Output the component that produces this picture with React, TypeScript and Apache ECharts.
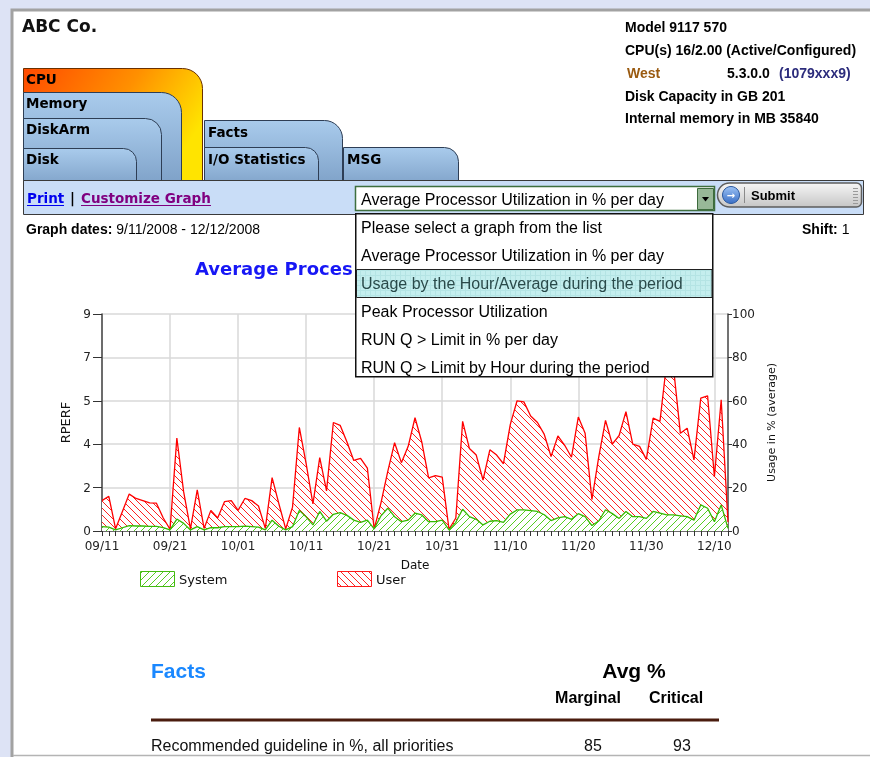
import React, { useEffect, useRef } from 'react';
import * as echarts from 'echarts';

// ---------- chart data ----------
const dates = [
  '09/11', '09/12', '09/13', '09/14', '09/15', '09/16', '09/17', '09/18', '09/19', '09/20',
  '09/21', '09/22', '09/23', '09/24', '09/25', '09/26', '09/27', '09/28', '09/29', '09/30',
  '10/01', '10/02', '10/03', '10/04', '10/05', '10/06', '10/07', '10/08', '10/09', '10/10',
  '10/11', '10/12', '10/13', '10/14', '10/15', '10/16', '10/17', '10/18', '10/19', '10/20',
  '10/21', '10/22', '10/23', '10/24', '10/25', '10/26', '10/27', '10/28', '10/29', '10/30',
  '10/31', '11/01', '11/02', '11/03', '11/04', '11/05', '11/06', '11/07', '11/08', '11/09',
  '11/10', '11/11', '11/12', '11/13', '11/14', '11/15', '11/16', '11/17', '11/18', '11/19',
  '11/20', '11/21', '11/22', '11/23', '11/24', '11/25', '11/26', '11/27', '11/28', '11/29',
  '11/30', '12/01', '12/02', '12/03', '12/04', '12/05', '12/06', '12/07', '12/08', '12/09',
  '12/10', '12/11', '12/12',
];

// Usage in % (average) – height of the red "User" outline
const userPct = [
  14, 16, 1, 9, 17, 15, 14, 13, 12.8, 6,
  0.8, 42.8, 18, 1, 19, 1.2, 9.5, 6, 13.5, 14,
  9.5, 15, 14, 11.5, 1.2, 24.6, 12.5, 1, 11, 47.7,
  31, 12.5, 33.8, 18.5, 50, 48.7, 41, 32.5, 33.5, 29,
  1, 13, 27.5, 40.7, 31.5, 39, 52.2, 41, 24.5, 25.5,
  24.8, 0.8, 6, 50.5, 38, 35, 23.5, 37.4, 35, 31,
  49, 60, 59.5, 53, 50, 44.5, 34.3, 43.8, 39.5, 34,
  52.5, 45, 14.5, 34, 51, 40, 44, 55, 40, 39,
  33, 52, 50.5, 78, 75, 45, 47.4, 32.8, 61.2, 62.3,
  25, 60.5, 4,
];

// Usage in % (average) – green "System" outline
const systemPct = [
  2, 1.8, 0.5, 1.5, 2.5, 2.3, 2.3, 2.1, 2.1, 1.6,
  0.5, 5.5, 3.5, 0.5, 2, 0.5, 1.6, 1.5, 2, 2,
  2, 2.2, 2, 1.8, 0.5, 5, 2.2, 0.5, 2, 9.5,
  6.5, 2.8, 9, 4.5, 7.7, 8.5, 7.2, 5, 4, 5,
  1, 7, 10.5, 6.6, 4.3, 5, 8.2, 7.4, 4.3, 4.3,
  5, 0.5, 4, 10, 6.6, 5.4, 2.8, 4.5, 4.8, 4,
  7.8, 9.7, 9.7, 9.4, 9, 7.5, 4.8, 6, 6.6, 5.4,
  8, 6.6, 2.5, 4.6, 9.8, 8, 5.8, 9, 6.6, 6.6,
  5.8, 9, 8.2, 7.4, 7.4, 7, 6.6, 5, 12, 10.5,
  4.3, 12, 1.2,
];

const seriesNames = ['System', 'User'];
const rperfMax = 9;
const pctMax = 100;
const chartTitle = 'Average Processor Utilization in % per day';

const menuItems = [
  'Please select a graph from the list',
  'Average Processor Utilization in % per day',
  'Usage by the Hour/Average during the period',
  'Peak Processor Utilization',
  'RUN Q > Limit in % per day',
  'RUN Q > Limit by Hour during the period',
];
const selectedMenu = 2;

const infoLines = [
  'Model 9117 570',
  'CPU(s) 16/2.00 (Active/Configured)',
  '',
  'Disk Capacity in GB 201',
  'Internal memory in MB 35840',
];

const factsRow = { label: 'Recommended guideline in %, all priorities', marginal: '85', critical: '93' };

// ---------- helpers ----------
const AR = 'Liberation Sans';
const DV = 'DejaVu Sans';
const F = (size: number, bold = false, fam = AR) => `${bold ? 'bold ' : ''}${size}px "${fam}"`;

function hatch(color: string, forward: boolean) {
  const s = 7;
  const c = document.createElement('canvas');
  c.width = s;
  c.height = s;
  const g = c.getContext('2d')!;
  g.fillStyle = '#ffffff';
  g.fillRect(0, 0, s, s);
  g.strokeStyle = color;
  g.lineWidth = 1;
  g.beginPath();
  for (const d of [-s, 0, s]) {
    if (forward) {
      g.moveTo(d, s);
      g.lineTo(d + s, 0);
    } else {
      g.moveTo(d, 0);
      g.lineTo(d + s, s);
    }
  }
  g.stroke();
  return { image: c, repeat: 'repeat', imageWidth: s, imageHeight: s } as any;
}

function gridPattern() {
  const s = 5;
  const c = document.createElement('canvas');
  c.width = s;
  c.height = s;
  const g = c.getContext('2d')!;
  g.fillStyle = '#c4eeee';
  g.fillRect(0, 0, s, s);
  g.fillStyle = '#b4e4e4';
  g.fillRect(0, 0, s, 1);
  g.fillRect(0, 0, 1, s);
  return { image: c, repeat: 'repeat', imageWidth: s, imageHeight: s } as any;
}

const txt = (x: number, y: number, text: string, font: string, fill = '#000', align = 'left', z = 20) => ({
  type: 'text',
  x,
  y,
  z,
  silent: true,
  style: { text, font, fill, textAlign: align, textVerticalAlign: 'middle' },
});

const blueTab = {
  type: 'linear', x: 0, y: 0, x2: 0, y2: 1,
  colorStops: [{ offset: 0, color: '#a9cbec' }, { offset: 1, color: '#7c9fc6' }],
};
const cpuTab = {
  type: 'linear', x: 0, y: 0, x2: 1, y2: 0.45,
  colorStops: [
    { offset: 0, color: '#ff4a00' },
    { offset: 0.55, color: '#ff9000' },
    { offset: 0.85, color: '#ffc800' },
    { offset: 1, color: '#ffe400' },
  ],
};

const tab = (x: number, y: number, w: number, h: number, r: number, fill: any, stroke: string, z: number) => ({
  type: 'rect',
  z,
  silent: true,
  shape: { x, y, width: w, height: h, r: [0, r, 0, 0] },
  style: { fill, stroke, lineWidth: 1 },
});

export default function App() {
  const ref = useRef<HTMLDivElement>(null);

  useEffect(() => {
    const chart = echarts.init(ref.current!, null, { renderer: 'svg' });
    const redPat = hatch('#ff2020', false);
    const greenPat = hatch('#55cc22', true);
    const hlPat = gridPattern();

    const graphics: any[] = [
      // page background + panel
      { type: 'rect', z: -5, silent: true, shape: { x: 0, y: 0, width: 870, height: 757 }, style: { fill: '#dde3f5' } },
      {
        type: 'rect', z: -4, silent: true,
        shape: { x: 12, y: 10, width: 880, height: 800 },
        style: { fill: '#ffffff', stroke: '#a2a2a2', lineWidth: 3 },
      },
      { type: 'line', z: -3, silent: true, shape: { x1: 13, y1: 755.5, x2: 870, y2: 755.5 }, style: { stroke: '#b4b4b4', lineWidth: 1.5 } },

      txt(22, 26, 'ABC Co.', F(17, true, DV), '#111'),

      // info block
      txt(625, 27, infoLines[0], F(14, true)),
      txt(625, 50, infoLines[1], F(14, true)),
      txt(627, 73, 'West', F(14, true), '#9a5a10'),
      txt(727, 73, '5.3.0.0', F(14, true)),
      txt(779, 73, '(1079xxx9)', F(14, true), '#2c2c7c'),
      txt(625, 96, infoLines[3], F(14, true)),
      txt(625, 118, infoLines[4], F(14, true)),

      // tabs
      tab(23.5, 68.5, 179, 120, 20, cpuTab, '#6a3000', 3),
      tab(23.5, 92.5, 158, 96, 20, blueTab, '#2e3e55', 4),
      tab(23.5, 118.5, 138, 70, 16, blueTab, '#2e3e55', 5),
      tab(23.5, 148.5, 113, 40, 13, blueTab, '#2e3e55', 6),
      tab(204.5, 120.5, 138, 68, 18, blueTab, '#2e3e55', 3),
      tab(204.5, 147.5, 114, 41, 13, blueTab, '#2e3e55', 4),
      tab(343.5, 147.5, 115, 41, 14, blueTab, '#2e3e55', 3),
      txt(26, 79, 'CPU', F(13.5, true, DV)),
      txt(26, 103, 'Memory', F(13.5, true, DV)),
      txt(26, 129, 'DiskArm', F(13.5, true, DV)),
      txt(26, 159, 'Disk', F(13.5, true, DV)),
      txt(208, 132, 'Facts', F(13.5, true, DV)),
      txt(208, 158.5, 'I/O Statistics', F(13.5, true, DV)),
      txt(347, 158.5, 'MSG', F(13.5, true, DV)),

      // toolbar
      {
        type: 'rect', z: 10, silent: true,
        shape: { x: 23.5, y: 180.5, width: 840, height: 34 },
        style: { fill: '#c9ddf7', stroke: '#3a3a3a', lineWidth: 1 },
      },
      txt(27, 198, 'Print', F(13.5, true, DV), '#0000ee'),
      { type: 'line', z: 20, silent: true, shape: { x1: 27, y1: 205.5, x2: 64, y2: 205.5 }, style: { stroke: '#0000ee', lineWidth: 1 } },
      txt(70, 198, '|', F(13.5, true, DV), '#000'),
      txt(81, 198, 'Customize Graph', F(13.5, true, DV), '#800080'),
      { type: 'line', z: 20, silent: true, shape: { x1: 81, y1: 205.5, x2: 211, y2: 205.5 }, style: { stroke: '#800080', lineWidth: 1 } },

      // select box
      {
        type: 'rect', z: 20, silent: true,
        shape: { x: 355.5, y: 186.5, width: 359, height: 24 },
        style: { fill: '#ffffff', stroke: '#3f6f3f', lineWidth: 1.5 },
      },
      txt(361, 199, menuItems[1], F(16), '#000', 'left', 21),
      {
        type: 'rect', z: 21, silent: true,
        shape: { x: 697.5, y: 188.5, width: 16, height: 21 },
        style: { fill: '#98b898', stroke: '#3d6b3d', lineWidth: 1 },
      },
      {
        type: 'polygon', z: 22, silent: true,
        shape: { points: [[702, 197], [709, 197], [705.5, 201.5]] },
        style: { fill: '#000' },
      },

      // submit button
      {
        type: 'rect', z: 20, silent: true,
        shape: { x: 717.5, y: 183, width: 144, height: 24, r: [12, 5, 5, 12] },
        style: {
          fill: { type: 'linear', x: 0, y: 0, x2: 0, y2: 1, colorStops: [{ offset: 0, color: '#f6f6f6' }, { offset: 1, color: '#c6c6c6' }] },
          stroke: '#5e5e5e', lineWidth: 1.5,
        },
      },
      {
        type: 'circle', z: 21, silent: true,
        shape: { cx: 731, cy: 195, r: 8.5 },
        style: {
          fill: { type: 'linear', x: 0, y: 0, x2: 0, y2: 1, colorStops: [{ offset: 0, color: '#9cc2f4' }, { offset: 1, color: '#3a6fc6' }] },
          stroke: '#2c5aa0', lineWidth: 1,
        },
      },
      txt(731, 195, '→', F(10, true, DV), '#ffffff', 'center', 22),
      { type: 'line', z: 21, silent: true, shape: { x1: 744.5, y1: 187, x2: 744.5, y2: 203 }, style: { stroke: '#8a8a8a', lineWidth: 1 } },
      txt(751, 195, 'Submit', F(13, true), '#000', 'left', 21),
      ...[188, 191, 194, 197, 200, 203].map((y) => ({
        type: 'line', z: 21, silent: true, shape: { x1: 853, y1: y + 0.5, x2: 858, y2: y + 0.5 }, style: { stroke: '#9a9a9a', lineWidth: 1 },
      })),

      // graph dates / shift
      {
        type: 'text', x: 26, y: 229, z: 20, silent: true,
        style: {
          text: '{b|Graph dates:}{r| 9/11/2008 - 12/12/2008}',
          font: F(14), fill: '#000', textAlign: 'left', textVerticalAlign: 'middle',
          rich: { b: { font: F(14, true), fill: '#000' }, r: { font: F(14), fill: '#000' } },
        },
      },
      {
        type: 'text', x: 802, y: 229, z: 20, silent: true,
        style: {
          text: '{b|Shift:}{r| 1}',
          font: F(14), fill: '#000', textAlign: 'left', textVerticalAlign: 'middle',
          rich: { b: { font: F(14, true), fill: '#000' }, r: { font: F(14), fill: '#000' } },
        },
      },

      // chart title, partly hidden behind the open drop-down list
      {
        type: 'text', x: 195, y: 268, z: 30, silent: true,
        style: {
          text: chartTitle, font: F(18, true, DV), fill: '#1717f5',
          textAlign: 'left', textVerticalAlign: 'middle',
          width: 160, overflow: 'truncate', ellipsis: '',
        },
      },

      // legend
      {
        type: 'rect', z: 20, silent: true,
        shape: { x: 140.5, y: 571.5, width: 34, height: 15 },
        style: { fill: greenPat, stroke: '#44bb11', lineWidth: 1 },
      },
      txt(179, 579, seriesNames[0], F(13, false, DV), '#111'),
      {
        type: 'rect', z: 20, silent: true,
        shape: { x: 337.5, y: 571.5, width: 34, height: 15 },
        style: { fill: redPat, stroke: '#ff1a1a', lineWidth: 1 },
      },
      txt(376, 579, seriesNames[1], F(13, false, DV), '#111'),

      // facts section
      txt(151, 670, 'Facts', F(21, true), '#1a88ff'),
      txt(634, 670, 'Avg %', F(21, true), '#000', 'center'),
      txt(588, 697, 'Marginal', F(16, true), '#000', 'center'),
      txt(676, 697, 'Critical', F(16, true), '#000', 'center'),
      { type: 'line', z: 20, silent: true, shape: { x1: 151, y1: 720, x2: 719, y2: 720 }, style: { stroke: '#4a1c0e', lineWidth: 3 } },
      txt(151, 745, factsRow.label, F(16), '#111'),
      txt(593, 745, factsRow.marginal, F(16), '#111', 'center'),
      txt(682, 745, factsRow.critical, F(16), '#111', 'center'),

      // open drop-down list (drawn above the chart)
      {
        type: 'rect', z: 100, silent: true,
        shape: { x: 355.75, y: 213.75, width: 357, height: 163 },
        style: { fill: '#ffffff', stroke: '#111111', lineWidth: 1.5 },
      },
      {
        type: 'rect', z: 101, silent: true,
        shape: { x: 356.5, y: 269.5, width: 355.5, height: 28 },
        style: { fill: hlPat, stroke: '#222222', lineWidth: 1 },
      },
      ...menuItems.map((m, i) =>
        txt(361, 227 + i * 28.1, m, F(16), i === selectedMenu ? '#2a4a4a' : '#000', 'left', 102)
      ),
    ];

    chart.setOption({
      animation: false,
      backgroundColor: 'transparent',
      grid: { left: 102, right: 142, top: 314, bottom: 226, containLabel: false },
      xAxis: {
        type: 'category',
        data: dates,
        boundaryGap: false,
        name: 'Date',
        nameLocation: 'middle',
        nameGap: 28,
        nameTextStyle: { fontFamily: DV, fontSize: 12, color: '#111' },
        axisLine: { lineStyle: { color: '#444', width: 1.5 } },
        axisTick: { show: true, interval: 0, length: 5, lineStyle: { color: '#333', width: 1 } },
        axisLabel: { interval: 9, margin: 9, fontFamily: DV, fontSize: 12, color: '#222' },
        splitLine: { show: true, interval: 9, lineStyle: { color: '#d8d8d8', width: 1.5 } },
      },
      yAxis: [
        {
          type: 'value',
          position: 'left',
          min: 0,
          max: rperfMax,
          interval: rperfMax / 5,
          name: 'RPERF',
          nameLocation: 'middle',
          nameRotate: 90,
          nameGap: 30,
          nameTextStyle: { fontFamily: DV, fontSize: 13, color: '#111' },
          axisLine: { show: true, lineStyle: { color: '#444', width: 1.5 } },
          axisTick: { show: true, length: 9, lineStyle: { color: '#333' } },
          axisLabel: { margin: 11, fontFamily: DV, fontSize: 12, color: '#222', formatter: (v: number) => String(Math.round(v)) },
          splitLine: { show: false },
        },
        {
          type: 'value',
          position: 'right',
          min: 0,
          max: pctMax,
          interval: 20,
          name: 'Usage in % (average)',
          nameLocation: 'middle',
          nameRotate: 90,
          nameGap: 37,
          nameTextStyle: { fontFamily: DV, fontSize: 11, color: '#111' },
          axisLine: { show: true, lineStyle: { color: '#444', width: 1.5 } },
          axisTick: { show: true, length: 4, lineStyle: { color: '#333' } },
          axisLabel: { margin: 4, fontFamily: DV, fontSize: 12, color: '#222' },
          splitLine: { show: true, lineStyle: { color: '#d8d8d8', width: 1.5 } },
        },
      ],
      series: [
        {
          name: seriesNames[1],
          type: 'line',
          yAxisIndex: 1,
          data: userPct,
          symbol: 'none',
          showSymbol: false,
          lineStyle: { color: '#ff0000', width: 1.3 },
          itemStyle: { color: '#ff0000' },
          areaStyle: { color: redPat, opacity: 1 },
          z: 2,
        },
        {
          name: seriesNames[0],
          type: 'line',
          yAxisIndex: 1,
          data: systemPct,
          symbol: 'none',
          showSymbol: false,
          lineStyle: { color: '#33bb00', width: 1.3 },
          itemStyle: { color: '#33bb00' },
          areaStyle: { color: greenPat, opacity: 1 },
          z: 3,
        },
      ],
      graphic: { elements: graphics },
    });

    return () => chart.dispose();
  }, []);

  return <div ref={ref} style={{ position: 'fixed', left: 0, top: 0, width: 870, height: 757 }} />;
}
